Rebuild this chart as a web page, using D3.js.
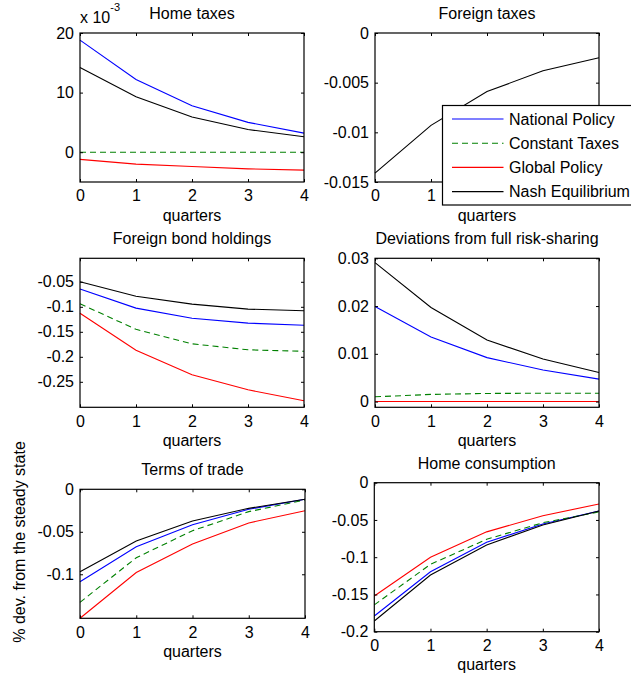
<!DOCTYPE html>
<html>
<head>
<meta charset="utf-8">
<script src="https://cdn.jsdelivr.net/npm/d3@7"></script>
<style>
  html, body { margin: 0; padding: 0; background: #fff; }
  svg { display: block; }
  text { font-family: "Liberation Sans", Arial, Helvetica, sans-serif; fill: #000; }
</style>
</head>
<body>
<svg id="chart" width="631" height="678"></svg>
<script>
// Impulse responses over the first five quarters, one array per series:
// [National Policy, Constant Taxes, Global Policy, Nash Equilibrium]
const quarters = [0, 1, 2, 3, 4];
const seriesNames = ["National Policy", "Constant Taxes", "Global Policy", "Nash Equilibrium"];
const seriesColors = ["#0000ff", "#008000", "#ff0000", "#000000"];
const seriesDashes = [null, "6,4", null, null];

const homeTaxes = [
  [0.0188, 0.0122, 0.0078, 0.0050, 0.0032],
  [0, 0, 0, 0, 0],
  [-0.0012, -0.0020, -0.0024, -0.0028, -0.0030],
  [0.0142, 0.0093, 0.0059, 0.0038, 0.0026]
];
const foreignTaxes = [
  null,
  null,
  null,
  [-0.0141, -0.0093, -0.0059, -0.0038, -0.0025]
];
const bondHoldings = [
  [-0.0646, -0.1026, -0.1230, -0.1326, -0.1370],
  [-0.0940, -0.1450, -0.1740, -0.1860, -0.1890],
  [-0.1130, -0.1870, -0.2360, -0.2660, -0.2880],
  [-0.0500, -0.0790, -0.0946, -0.1046, -0.1080]
];
const riskSharing = [
  [0.0199, 0.0135, 0.0092, 0.0066, 0.0047],
  [0.0010, 0.0015, 0.0017, 0.00175, 0.00175],
  [0, 0, 0, 0, 0],
  [0.0291, 0.0197, 0.0129, 0.0089, 0.0061]
];
const termsOfTrade = [
  [-0.1087, -0.0675, -0.0416, -0.0235, -0.0118],
  [-0.1330, -0.0805, -0.0487, -0.0263, -0.0126],
  [-0.1518, -0.0980, -0.0644, -0.0396, -0.0252],
  [-0.0970, -0.0608, -0.0373, -0.0224, -0.0118]
];
const homeConsumption = [
  [-0.1790, -0.1195, -0.0800, -0.0554, -0.0380],
  [-0.1640, -0.1096, -0.0760, -0.0537, -0.0393],
  [-0.1520, -0.1000, -0.0660, -0.0443, -0.0286],
  [-0.1857, -0.1240, -0.0836, -0.0568, -0.0380]
];

// Y-axis ticks and their labels for each panel
const homeTaxesTicks = [0, 0.01, 0.02];
const homeTaxesTickLabels = ["0", "10", "20"];
const foreignTaxesTicks = [-0.015, -0.01, -0.005, 0];
const foreignTaxesTickLabels = ["-0.015", "-0.01", "-0.005", "0"];
const bondTicks = [-0.25, -0.2, -0.15, -0.1, -0.05];
const bondTickLabels = ["-0.25", "-0.2", "-0.15", "-0.1", "-0.05"];
const riskTicks = [0, 0.01, 0.02, 0.03];
const riskTickLabels = ["0", "0.01", "0.02", "0.03"];
const totTicks = [-0.1, -0.05, 0];
const totTickLabels = ["-0.1", "-0.05", "0"];
const consTicks = [-0.2, -0.15, -0.1, -0.05, 0];
const consTickLabels = ["-0.2", "-0.15", "-0.1", "-0.05", "0"];

// Panel layout (box in pixels) and y-ranges
const panels = [
  { title: "Home taxes", data: homeTaxes, domain: [-0.005, 0.02], ticks: homeTaxesTicks, labels: homeTaxesTickLabels,
    box: { x: 80, y: 33, w: 224, h: 149 }, exponent: "-3" },
  { title: "Foreign taxes", data: foreignTaxes, domain: [-0.015, 0], ticks: foreignTaxesTicks, labels: foreignTaxesTickLabels,
    box: { x: 375, y: 33, w: 224, h: 149 } },
  { title: "Foreign bond holdings", data: bondHoldings, domain: [-0.301, -0.003], ticks: bondTicks, labels: bondTickLabels,
    box: { x: 80, y: 258.3, w: 224, h: 149 } },
  { title: "Deviations from full risk-sharing", data: riskSharing, domain: [-0.0012, 0.03], ticks: riskTicks, labels: riskTickLabels,
    box: { x: 375, y: 258.3, w: 224, h: 149 } },
  { title: "Terms of trade", data: termsOfTrade, domain: [-0.1518, 0], ticks: totTicks, labels: totTickLabels,
    box: { x: 80, y: 489.3, w: 225, h: 129 } },
  { title: "Home consumption", data: homeConsumption, domain: [-0.2, 0], ticks: consTicks, labels: consTickLabels,
    box: { x: 374.3, y: 482.7, w: 224.7, h: 149 } }
];

// Legend box sits over the lower right of the foreign-taxes panel
const legendBox = { x: 442.5, y: 105.5, w: 210, h: 99.5 };

const svg = d3.select("#chart");
const FONT = 16;
const TICK = 3;

panels.forEach((p, i) => {
  const b = p.box;
  const g = svg.append("g").attr("transform", `translate(${b.x},${b.y})`);
  const x = d3.scaleLinear().domain([0, 4]).range([0, b.w]);
  const y = d3.scaleLinear().domain(p.domain).range([b.h, 0]);

  const clipId = "clip" + i;
  g.append("clipPath").attr("id", clipId)
    .append("rect").attr("x", -1).attr("y", -1).attr("width", b.w + 2).attr("height", b.h + 2);

  // series lines
  const line = d3.line().x((d, k) => x(quarters[k])).y(d => y(d));
  const lines = g.append("g").attr("clip-path", `url(#${clipId})`);
  p.data.forEach((vals, s) => {
    if (!vals) return;
    lines.append("path")
      .attr("d", line(vals))
      .attr("fill", "none")
      .attr("stroke", seriesColors[s])
      .attr("stroke-width", 1.1)
      .attr("stroke-dasharray", seriesDashes[s]);
  });

  // axes with inward ticks, mirrored on top and right
  const styleAxis = sel => {
    sel.select(".domain").remove();
    sel.selectAll("line").attr("stroke", "#000");
    sel.selectAll("text").attr("font-size", FONT).attr("font-family", null);
    sel.attr("font-size", null).attr("font-family", null);
  };
  // tick labels that would sit under the legend box are covered by it
  const underLegend = v => {
    const ax = b.x + x(v), ay = b.y + b.h + 12;
    return ax > legendBox.x - 4 && ay > legendBox.y && ay < legendBox.y + legendBox.h;
  };
  g.append("g").attr("transform", `translate(0,${b.h})`)
    .call(d3.axisBottom(x).tickValues(quarters)
      .tickFormat(v => underLegend(v) ? "" : d3.format("d")(v))
      .tickSize(-TICK).tickPadding(8))
    .call(styleAxis);
  g.append("g")
    .call(d3.axisTop(x).tickValues(quarters).tickFormat("").tickSize(-TICK))
    .call(styleAxis);
  g.append("g")
    .call(d3.axisLeft(y).tickValues(p.ticks).tickFormat((d, k) => p.labels[k]).tickSize(-TICK).tickPadding(6))
    .call(styleAxis);
  g.append("g").attr("transform", `translate(${b.w},0)`)
    .call(d3.axisRight(y).tickValues(p.ticks).tickFormat("").tickSize(-TICK))
    .call(styleAxis);

  // frame
  g.append("rect").attr("width", b.w).attr("height", b.h)
    .attr("fill", "none").attr("stroke", "#000").attr("stroke-width", 1.2);

  // title and x label
  g.append("text").attr("x", b.w / 2).attr("y", -14)
    .attr("text-anchor", "middle").attr("font-size", FONT).text(p.title);
  g.append("text").attr("x", b.w / 2).attr("y", b.h + 38.5)
    .attr("text-anchor", "middle").attr("font-size", FONT).text("quarters");

  if (p.exponent) {
    const t = g.append("text").attr("x", 0).attr("y", -10).attr("font-size", FONT);
    t.append("tspan").text("x 10");
    t.append("tspan").attr("font-size", 11).attr("dy", -12.5).text(p.exponent);
  }
});

// shared y label
svg.append("text")
  .attr("transform", "translate(25,542) rotate(-90)")
  .attr("text-anchor", "middle").attr("font-size", FONT)
  .text("% dev. from the steady state");

// legend over the foreign-taxes panel
const legend = svg.append("g").attr("transform", `translate(${legendBox.x},${legendBox.y})`);
legend.append("rect").attr("width", legendBox.w).attr("height", legendBox.h)
  .attr("fill", "#fff").attr("stroke", "#000").attr("stroke-width", 1.2);
seriesNames.forEach((name, s) => {
  const yy = 13.5 + s * 24.2;
  legend.append("line").attr("x1", 9.5).attr("x2", 61).attr("y1", yy).attr("y2", yy)
    .attr("stroke", seriesColors[s]).attr("stroke-width", 1.1)
    .attr("stroke-dasharray", seriesDashes[s]);
  legend.append("text").attr("x", 66.5).attr("y", yy).attr("dy", "0.35em")
    .attr("font-size", FONT).text(name);
});
</script>
</body>
</html>
